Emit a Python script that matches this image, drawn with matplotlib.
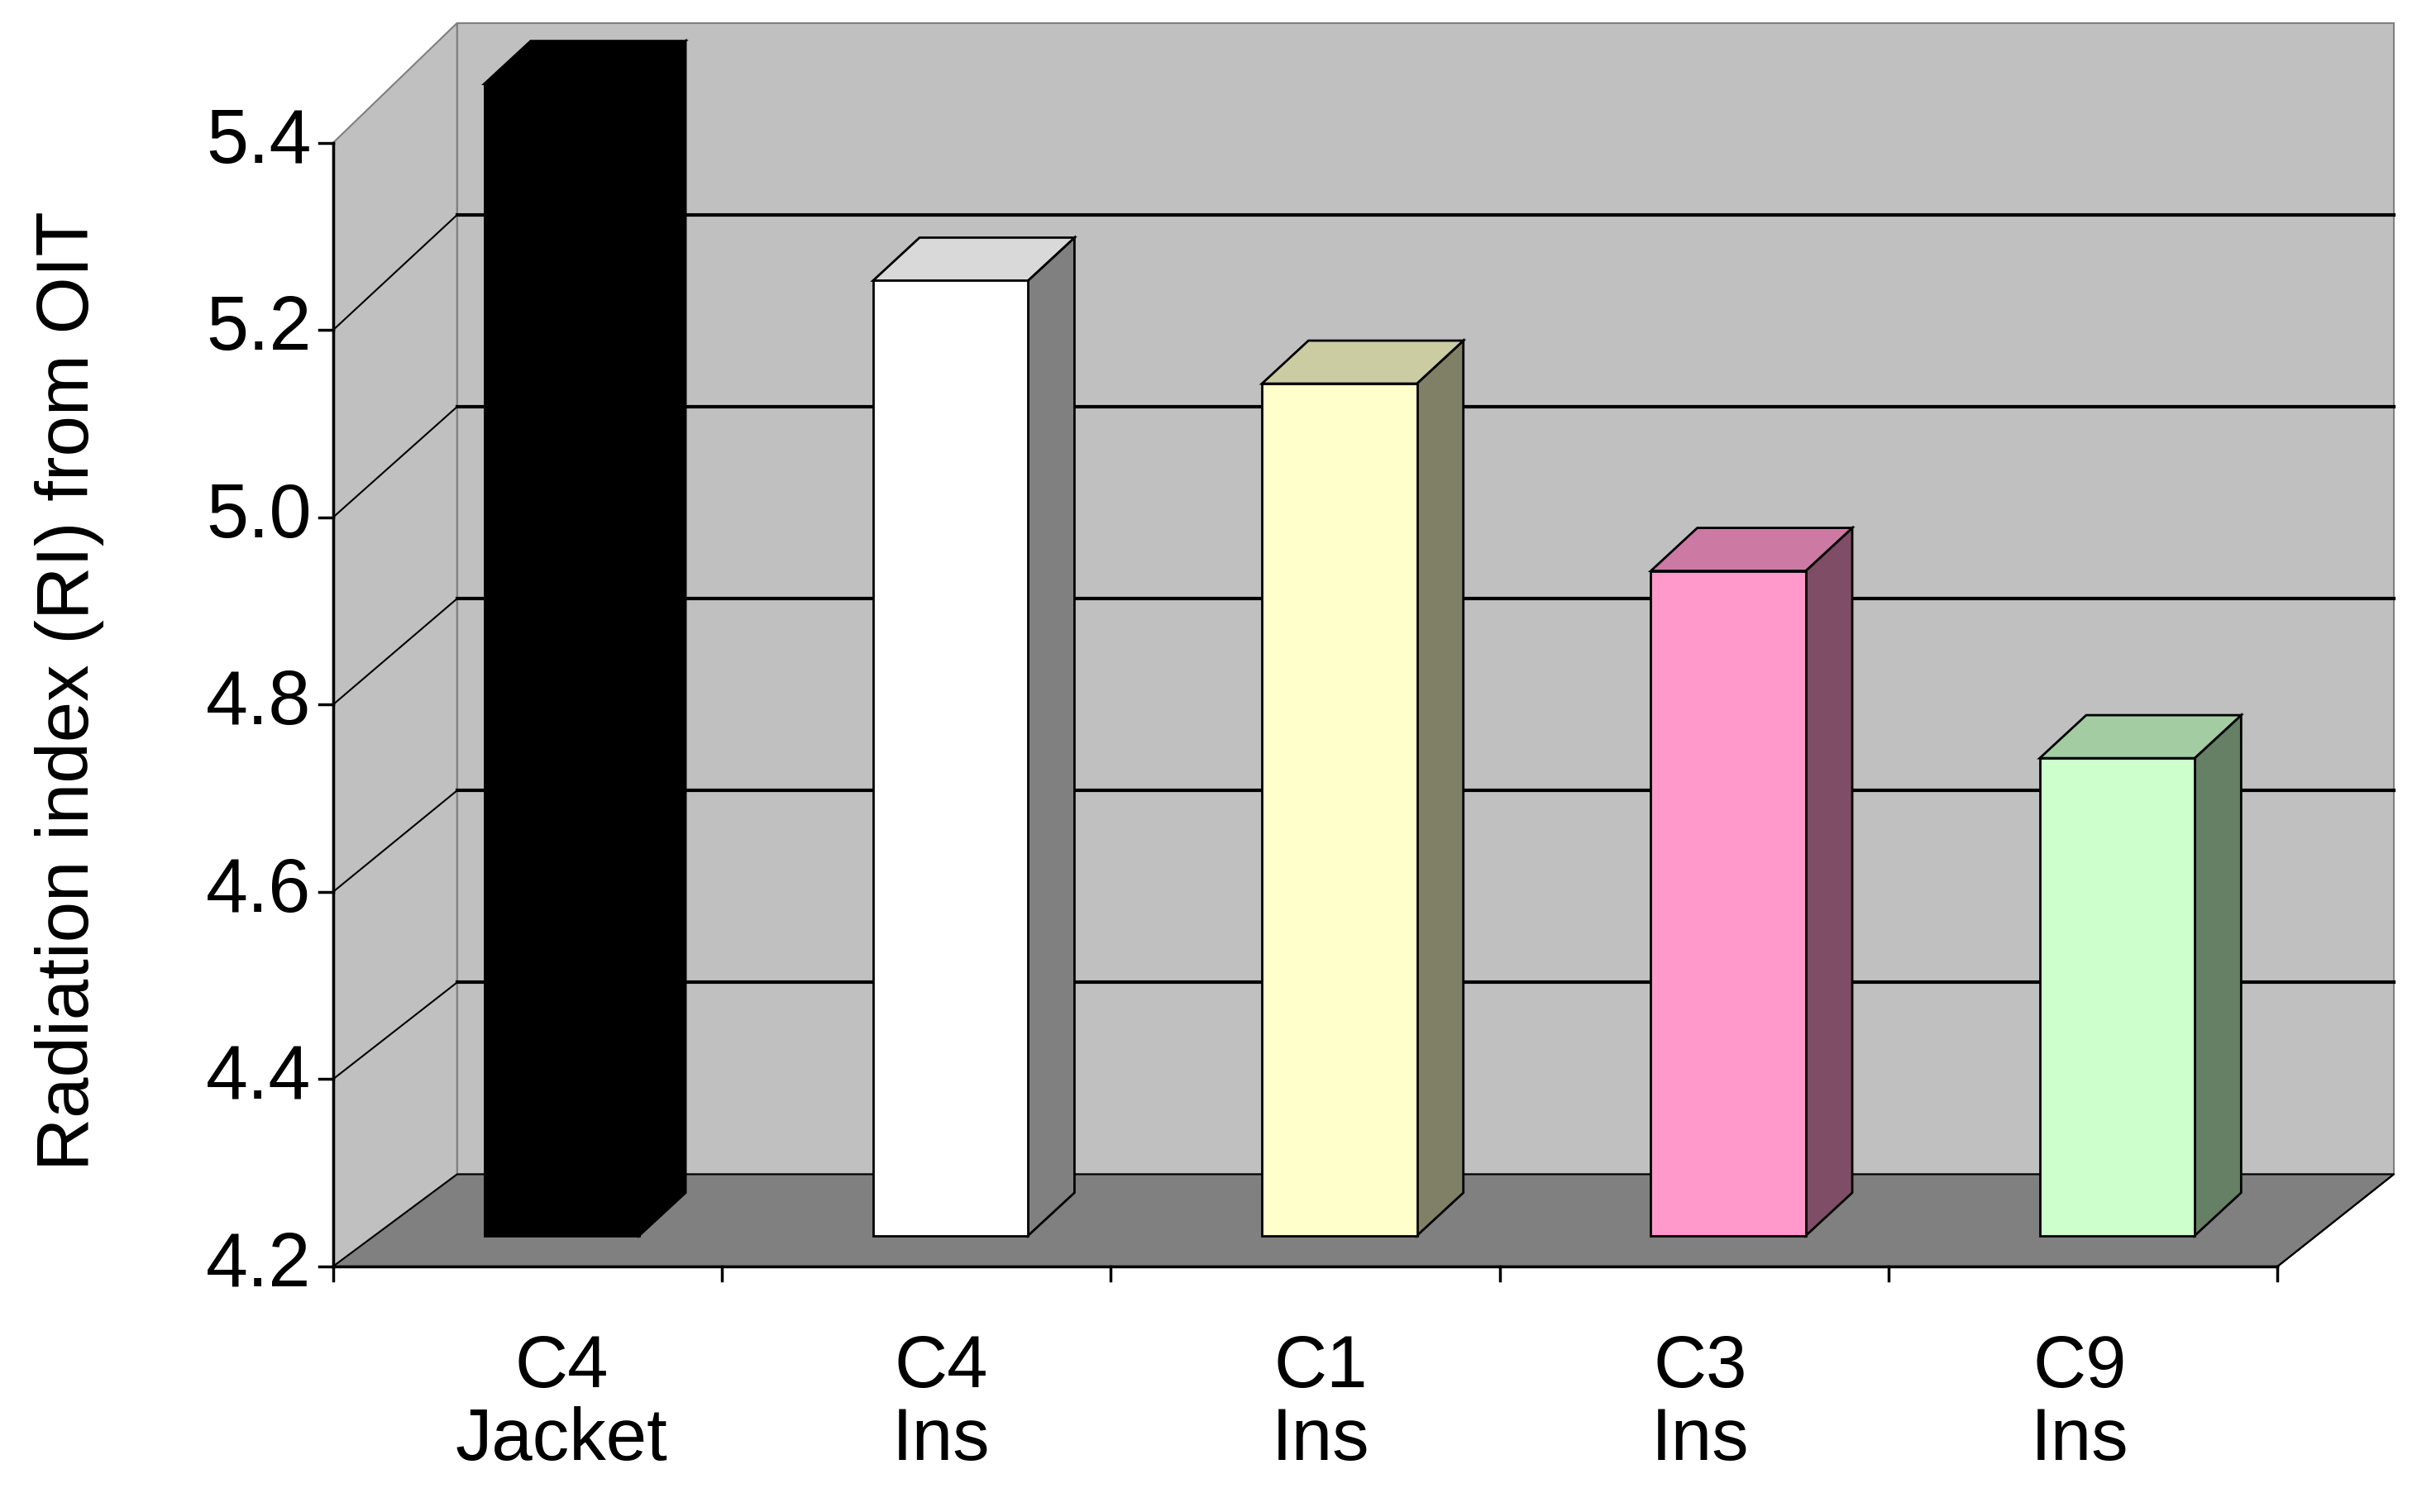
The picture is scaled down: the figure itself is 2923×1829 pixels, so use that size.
import matplotlib
matplotlib.use("Agg")
import matplotlib.pyplot as plt
from matplotlib.patches import Polygon

plt.rcParams['font.family'] = ['Liberation Sans', 'DejaVu Sans']

categories = ["C4\nJacket", "C4\nIns", "C1\nIns", "C3\nIns", "C9\nIns"]
values = [5.43, 5.22, 5.11, 4.91, 4.71]
yticks = [4.2, 4.4, 4.6, 4.8, 5.0, 5.2, 5.4]
front_col = ["#000000", "#ffffff", "#ffffcc", "#ff99cc", "#ccffcc"]
side_col = ["#000000", "#808080", "#808066", "#804d66", "#668066"]
top_col = ["#000000", "#d9d9d9", "#cccca3", "#cc7aa3", "#a3cca3"]

W, H = 1560, 985
fig = plt.figure(figsize=(29.23, 18.29), dpi=100)
ax = fig.add_axes([0, 0, 1, 1])
ax.set_xlim(0, W); ax.set_ylim(H, 0); ax.axis("off")

ymin = 4.2
x0, xb, xr_back, xr_front = 215, 295, 1545, 1470
yf0, yb0 = 825, 765
fs = 122 / 0.2
bs = 125 / 0.2
def yfront(v): return yf0 - (v - ymin) * fs
def yback(v): return yb0 - (v - ymin) * bs
ytop_back = yback(yticks[-1])
ytop_front = yfront(yticks[-1])

ec = dict(edgecolor="#808080", lw=1.5)
ax.add_patch(Polygon([(xb, ytop_back), (xr_back, ytop_back), (xr_back, yb0), (xb, yb0)], closed=True, facecolor="#c0c0c0", **ec))
ax.add_patch(Polygon([(x0, ytop_front), (xb, ytop_back), (xb, yb0), (x0, yf0)], closed=True, facecolor="#c0c0c0", **ec))
ax.add_patch(Polygon([(x0, yf0), (xb, yb0), (xr_back, yb0), (xr_front, yf0)], closed=True, facecolor="#808080", edgecolor="black", lw=1.5))
for v in yticks[1:-1]:
    ax.plot([xb, xr_back], [yback(v), yback(v)], color="black", lw=3, zorder=2)
    ax.plot([x0, xb], [yfront(v), yback(v)], color="black", lw=1.5, zorder=2)
ax.plot([x0, x0], [ytop_front, yf0], color="black", lw=2.5, zorder=2)
ax.plot([x0, xr_front], [yf0, yf0], color="black", lw=2.5, zorder=2)
ax.plot([xr_front, xr_back], [yf0, yb0], color="black", lw=1.5, zorder=2)
for v in yticks:
    ax.plot([x0 - 9, x0], [yfront(v), yfront(v)], color="black", lw=2.5)
    ax.text(x0 - 14, yfront(v), f"{v:.1f}", ha="right", va="center", fontsize=66)
n = len(categories)
step = (xr_front - x0) / n
for i in range(n + 1):
    ax.plot([x0 + i * step, x0 + i * step], [yf0, yf0 + 9], color="black", lw=2.5)

bw, dx, dy = 100, 30, -28
ybase = 805
for i, (v, c) in enumerate(zip(values, categories)):
    cx = x0 + (i + 0.5) * step + 22
    l, r = cx - bw / 2, cx + bw / 2
    t = ybase - (v - ymin) * fs
    ax.add_patch(Polygon([(r, ybase), (r + dx, ybase + dy), (r + dx, t + dy), (r, t)], closed=True, facecolor=side_col[i], edgecolor="black", lw=2, zorder=3))
    ax.add_patch(Polygon([(l, t), (l + dx, t + dy), (r + dx, t + dy), (r, t)], closed=True, facecolor=top_col[i], edgecolor="black", lw=2, zorder=3))
    ax.add_patch(Polygon([(l, ybase), (r, ybase), (r, t), (l, t)], closed=True, facecolor=front_col[i], edgecolor="black", lw=2, zorder=3))
    ax.text(x0 + (i + 0.5) * step + 22 - 6 * i, 915, c, ha="center", va="center", fontsize=64, linespacing=1.05)

ax.text(45, 450, "Radiation index (RI) from OIT", rotation=90, ha="center", va="center", fontsize=64)
fig.savefig("out.png", dpi=100)
